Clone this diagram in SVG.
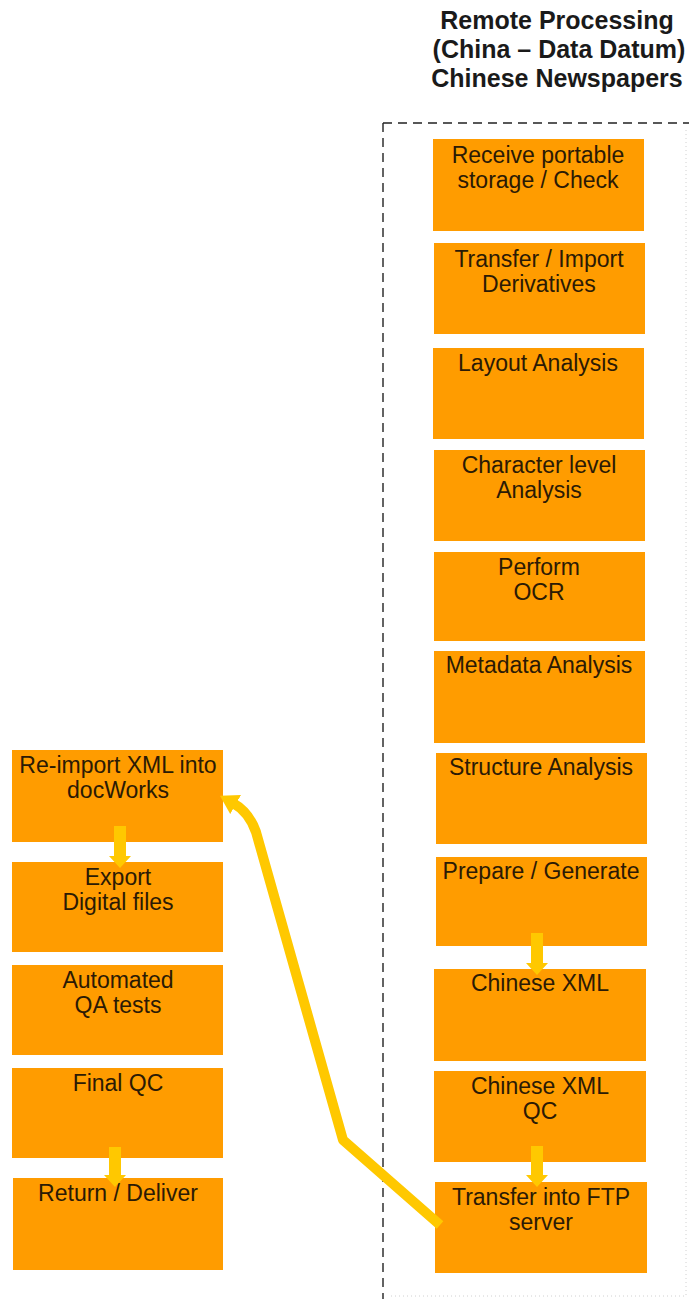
<svg xmlns="http://www.w3.org/2000/svg" width="689" height="1299" viewBox="0 0 689 1299">
<style>
.box{fill:#FF9C00}
.t{font-family:"Liberation Sans",Arial,sans-serif;font-size:23px;fill:#2b1a05;text-anchor:middle}
.title{font-family:"Liberation Sans",Arial,sans-serif;font-size:25px;font-weight:bold;fill:#1a1a1a;text-anchor:middle}
.blk{fill:#FFC800}
</style>
<defs>
<marker id="ah" markerUnits="userSpaceOnUse" markerWidth="18" markerHeight="22" refX="3" refY="11" orient="auto">
<path d="M0 0 L18 11 L0 22 Z" fill="#FFC800"/>
</marker>
</defs>
<rect width="689" height="1299" fill="#ffffff"/>
<g id="title">
<text class="title" x="557" y="29">Remote Processing</text>
<text class="title" x="559" y="58">(China – Data Datum)</text>
<text class="title" x="557" y="87">Chinese Newspapers</text>
</g>
<g id="boundary" fill="none">
<path d="M383 123 V1299 M383 123 H689" stroke="#222" stroke-width="1.4" stroke-dasharray="9 6"/>
<path d="M686 130 V1296 H390" stroke="#d0d0d0" stroke-width="1" stroke-dasharray="1 3"/>
</g>
<g id="n1"><rect class="box" x="433" y="139" width="211" height="92"/><text class="t" x="538" y="163">Receive portable</text><text class="t" x="538" y="188">storage / Check</text></g>
<g id="n2"><rect class="box" x="434" y="243" width="211" height="91"/><text class="t" x="539" y="267">Transfer / Import</text><text class="t" x="539" y="292">Derivatives</text></g>
<g id="n3"><rect class="box" x="433" y="348" width="211" height="91"/><text class="t" x="538" y="371">Layout Analysis</text></g>
<g id="n4"><rect class="box" x="434" y="450" width="211" height="91"/><text class="t" x="539" y="473">Character level</text><text class="t" x="539" y="498">Analysis</text></g>
<g id="n5"><rect class="box" x="434" y="552" width="211" height="89"/><text class="t" x="539" y="575">Perform</text><text class="t" x="539" y="600">OCR</text></g>
<g id="n6"><rect class="box" x="434" y="651" width="211" height="92"/><text class="t" x="539" y="673">Metadata Analysis</text></g>
<g id="n7"><rect class="box" x="436" y="753" width="211" height="91"/><text class="t" x="541" y="775">Structure Analysis</text></g>
<g id="n8"><rect class="box" x="436" y="857" width="211" height="89"/><text class="t" x="541" y="879">Prepare / Generate</text></g>
<g id="n9"><rect class="box" x="434" y="969" width="212" height="92"/><text class="t" x="540" y="991">Chinese XML</text></g>
<g id="n10"><rect class="box" x="434" y="1071" width="212" height="91"/><text class="t" x="540" y="1094">Chinese XML</text><text class="t" x="540" y="1119">QC</text></g>
<g id="n11"><rect class="box" x="435" y="1182" width="212" height="91"/><text class="t" x="541" y="1205">Transfer into FTP</text><text class="t" x="541" y="1230">server</text></g>
<g id="m1"><rect class="box" x="12" y="750" width="211" height="92"/><text class="t" x="118" y="773">Re-import XML into</text><text class="t" x="118" y="798">docWorks</text></g>
<g id="m2"><rect class="box" x="12" y="862" width="211" height="90"/><text class="t" x="118" y="885">Export</text><text class="t" x="118" y="910">Digital files</text></g>
<g id="m3"><rect class="box" x="12" y="965" width="211" height="90"/><text class="t" x="118" y="988">Automated</text><text class="t" x="118" y="1013">QA tests</text></g>
<g id="m4"><rect class="box" x="12" y="1068" width="211" height="90"/><text class="t" x="118" y="1091">Final QC</text></g>
<g id="m5"><rect class="box" x="13" y="1178" width="210" height="92"/><text class="t" x="118" y="1201">Return / Deliver</text></g>
<g id="connectors">
<path class="blk" d="M114 826 H126 V856 H131 L120 868 L109 856 H114 Z"/>
<path class="blk" d="M109 1147 H121 V1175 H126 L115 1187 L104 1175 H109 Z"/>
<path class="blk" d="M531 933 H543 V963 H548 L537 975 L526 963 H531 Z"/>
<path class="blk" d="M531 1146 H543 V1175 H548 L537 1187 L526 1175 H531 Z"/>
<path d="M440 1225 L343 1140 L256 832 Q249 812 233 803" fill="none" stroke="#FFC800" stroke-width="10" stroke-linejoin="round" marker-end="url(#ah)"/>
</g>
</svg>
